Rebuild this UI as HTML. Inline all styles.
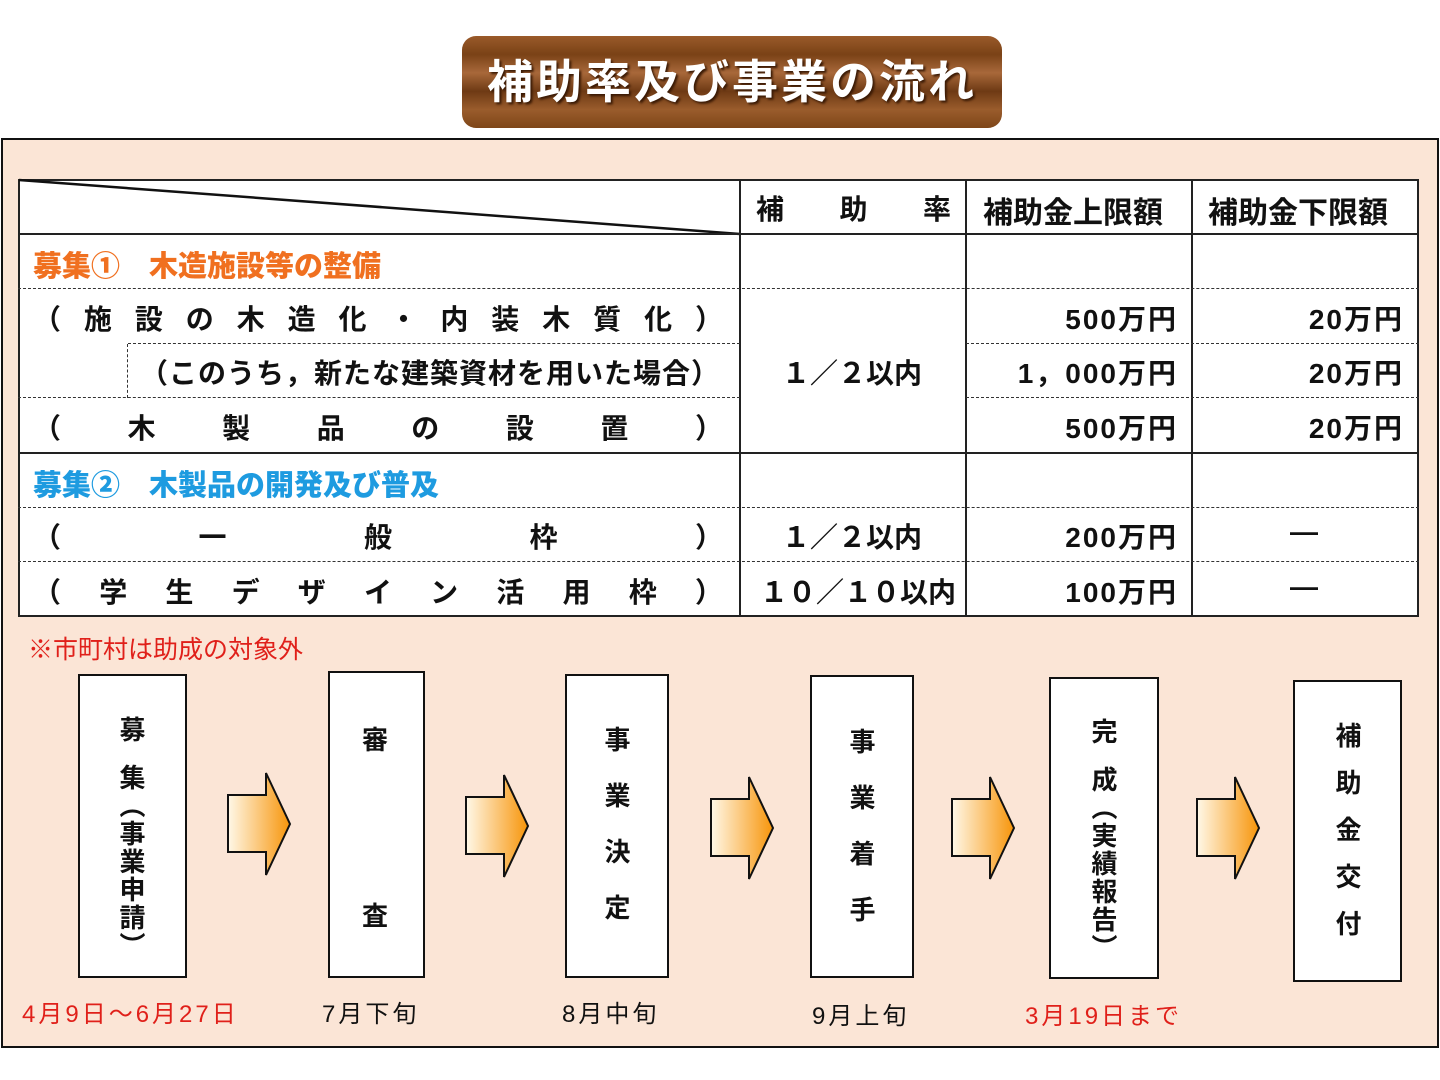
<!DOCTYPE html>
<html><head><meta charset="utf-8"><style>
*{margin:0;padding:0;box-sizing:border-box}
body{width:1440px;height:1080px;background:#fff;position:relative;overflow:hidden;font-family:"Liberation Sans","Noto Sans CJK JP",sans-serif;font-weight:bold;color:#111}
.a{position:absolute}
.title{left:462px;top:36px;width:540px;height:92px;border-radius:14px;background:linear-gradient(180deg,#9a5a2a 0%,#7a4216 20%,#a8683a 40%,#6e3a14 60%,#9a5c2c 80%,#7e4618 100%);color:#fff;font-size:46px;text-align:center;line-height:92px;text-shadow:2px 2px 2px #3a1a05;letter-spacing:3px}
.outer{left:1px;top:138px;width:1438px;height:910px;border:2px solid #111;background:#fbe5d6}
.tbl{left:18px;top:179px;width:1401px;height:438px;background:#fff;border:2px solid #222}
.h{height:0;border-top:1.5px dashed #333}
.hs{height:0;border-top:2px solid #222}
.v{width:0;border-left:2px solid #222}
.t{font-size:28px;white-space:nowrap}
.r{text-align:right;letter-spacing:2px}
.box{border:2px solid #111;background:#fff}
.vt{writing-mode:vertical-rl;font-size:26px;white-space:nowrap}
.d{font-size:24px;font-weight:normal;white-space:nowrap;letter-spacing:3px}
</style></head><body>
<div class="a title">補助率及び事業の流れ</div>
<div class="a outer"></div>
<div class="a tbl"></div>
<svg class="a" style="left:0;top:0" width="1440" height="1080"><line x1="19" y1="180" x2="740" y2="234" stroke="#111" stroke-width="2.5"/></svg>
<div class="a v" style="left:739px;top:179px;height:438px"></div>
<div class="a v" style="left:965px;top:179px;height:438px"></div>
<div class="a v" style="left:1191px;top:179px;height:438px"></div>
<div class="a hs" style="left:18px;top:233px;width:1401px"></div>
<div class="a h" style="left:18px;top:288px;width:1401px"></div>
<div class="a h" style="left:128px;top:343px;width:612px"></div>
<div class="a h" style="left:966px;top:343px;width:453px"></div>
<div class="a h" style="left:18px;top:397px;width:722px"></div>
<div class="a h" style="left:966px;top:397px;width:453px"></div>
<div class="a hs" style="left:18px;top:452px;width:1401px"></div>
<div class="a h" style="left:18px;top:507px;width:1401px"></div>
<div class="a h" style="left:18px;top:561px;width:1401px"></div>
<div class="a" style="left:127px;top:344px;height:54px;border-left:1.5px dashed #333"></div>
<div class="a t" style="left:756px;top:188px;width:195px;display:flex;justify-content:space-between"><span>補</span><span>助</span><span>率</span></div>
<div class="a t" style="left:983px;top:188px;font-size:30px">補助金上限額</div>
<div class="a t" style="left:1208px;top:188px;font-size:30px">補助金下限額</div>
<div class="a t" style="left:33px;top:243px;color:#f07020;font-weight:900;font-size:29px">募集①　木造施設等の整備</div>
<div class="a t" style="left:33px;top:298px;width:690px;display:flex;justify-content:space-between"><span>（</span><span>施</span><span>設</span><span>の</span><span>木</span><span>造</span><span>化</span><span>・</span><span>内</span><span>装</span><span>木</span><span>質</span><span>化</span><span>）</span></div>
<div class="a t" style="left:140px;top:352px;font-size:28px;letter-spacing:1px">（このうち，新たな建築資材を用いた場合）</div>
<div class="a t" style="left:33px;top:407px;width:690px;display:flex;justify-content:space-between"><span>（</span><span>木</span><span>製</span><span>品</span><span>の</span><span>設</span><span>置</span><span>）</span></div>
<div class="a t" style="left:782px;top:352px">１／２以内</div>
<div class="a t r" style="left:966px;top:298px;width:212px">500万円</div>
<div class="a t r" style="left:966px;top:352px;width:212px">1，000万円</div>
<div class="a t r" style="left:966px;top:407px;width:212px">500万円</div>
<div class="a t r" style="left:1192px;top:298px;width:212px">20万円</div>
<div class="a t r" style="left:1192px;top:352px;width:212px">20万円</div>
<div class="a t r" style="left:1192px;top:407px;width:212px">20万円</div>
<div class="a t" style="left:33px;top:462px;color:#1e9be0;font-weight:900;font-size:29px">募集②　木製品の開発及び普及</div>
<div class="a t" style="left:33px;top:516px;width:690px;display:flex;justify-content:space-between"><span>（</span><span>一</span><span>般</span><span>枠</span><span>）</span></div>
<div class="a t" style="left:33px;top:571px;width:690px;display:flex;justify-content:space-between"><span>（</span><span>学</span><span>生</span><span>デ</span><span>ザ</span><span>イ</span><span>ン</span><span>活</span><span>用</span><span>枠</span><span>）</span></div>
<div class="a t" style="left:782px;top:516px">１／２以内</div>
<div class="a t" style="left:760px;top:571px">１０／１０以内</div>
<div class="a t r" style="left:966px;top:516px;width:212px">200万円</div>
<div class="a t r" style="left:966px;top:571px;width:212px">100万円</div>
<div class="a t" style="left:1290px;top:516px">―</div>
<div class="a t" style="left:1290px;top:571px">―</div>
<div class="a" style="left:28px;top:630px;font-size:25px;color:#e0201a;font-weight:normal">※市町村は助成の対象外</div>
<div class="a box" style="left:78px;top:674px;width:109px;height:304px"></div>
<div class="a vt" style="left:113px;top:716px;letter-spacing:2px">募<span style="display:inline-block;height:20px"></span>集（事業申請）</div>
<div class="a box" style="left:328px;top:671px;width:97px;height:307px"></div>
<div class="a t" style="left:362px;top:720px;font-size:26px">審</div>
<div class="a t" style="left:362px;top:896px;font-size:26px">査</div>
<div class="a box" style="left:565px;top:674px;width:104px;height:304px"></div>
<div class="a vt" style="left:598px;top:726px;letter-spacing:30px">事業決定</div>
<div class="a box" style="left:810px;top:675px;width:104px;height:303px"></div>
<div class="a vt" style="left:843px;top:728px;letter-spacing:30px">事業着手</div>
<div class="a box" style="left:1049px;top:677px;width:110px;height:302px"></div>
<div class="a vt" style="left:1085px;top:718px;letter-spacing:2px">完<span style="display:inline-block;height:20px"></span>成（実績報告）</div>
<div class="a box" style="left:1293px;top:680px;width:109px;height:302px"></div>
<div class="a vt" style="left:1329px;top:722px;letter-spacing:21px">補助金交付</div>
<svg class="a" style="left:0;top:0" width="1440" height="1080">
<defs><linearGradient id="g" x1="0" x2="1"><stop offset="0" stop-color="#fff8e8"/><stop offset="1" stop-color="#f7950a"/></linearGradient></defs>
<g stroke="#111" stroke-width="2" fill="url(#g)">
<polygon points="228,795 266,795 266,773 290,824 266,875 266,852 228,852"/>
<polygon points="466,797 504,797 504,775 528,826 504,877 504,854 466,854"/>
<polygon points="711,799 749,799 749,777 773,828 749,879 749,856 711,856"/>
<polygon points="952,799 990,799 990,777 1014,828 990,879 990,856 952,856"/>
<polygon points="1197,799 1235,799 1235,777 1259,828 1235,879 1235,856 1197,856"/>
</g></svg>
<div class="a d" style="left:22px;top:994px;color:#e0201a">4月9日～6月27日</div>
<div class="a d" style="left:322px;top:994px">7月下旬</div>
<div class="a d" style="left:562px;top:994px">8月中旬</div>
<div class="a d" style="left:812px;top:996px">9月上旬</div>
<div class="a d" style="left:1025px;top:996px;color:#e0201a">3月19日まで</div>
</body></html>
